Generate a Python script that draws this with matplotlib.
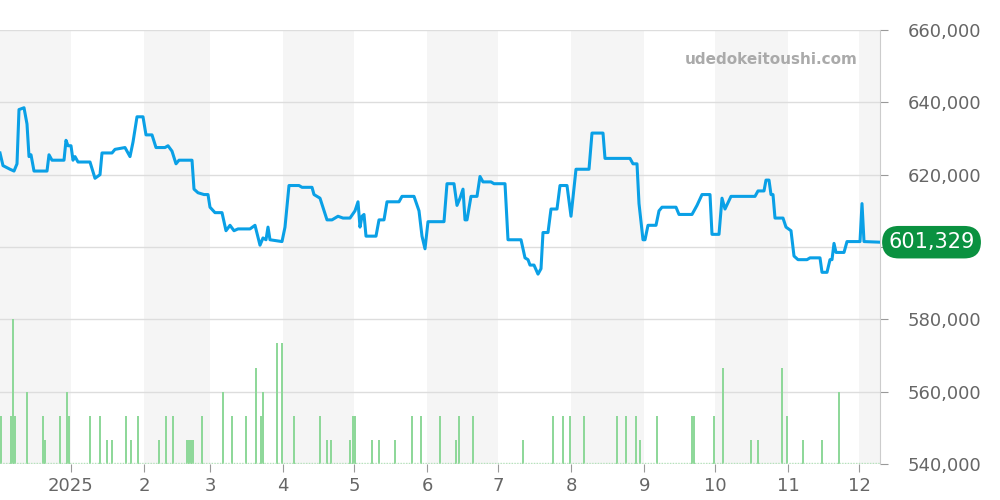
import matplotlib
matplotlib.use("Agg")
import matplotlib.pyplot as plt
import numpy as np
import pandas as pd

start = pd.Timestamp("2024-12-02")
price_pts = [(0,626),(3,622.5),(10,621.5),(14,621),(17,623),(19,638),(24,638.5),(27,634),(29,625),(31,625.5),(34,621),(47,621),(49,625.5),(52,624),(64,624),(66,629.5),(68,628),(71,628),(73,624),(75,625),(78,623.5),(90,623.5),(95,619),(100,620),(102,626),(112,626),(115,627),(125,627.5),(130,625),(133,629),(137,636),(143,636),(146,631),(152,631),(156,627.5),(165,627.5),(168,628),(172,626.5),(176,623),(179,624),(192,624),(194,616),(198,615),(204,614.5),(208,614.5),(210,611),(215,609.5),(222,609.5),(226,604.5),(230,606),(234,604.5),(238,605),(250,605),(255,606),(260,600.5),(263,602.5),(266,602),(268,605.5),(270,602),(282,601.5),(285,605.5),(289,617),(299,617),(302,616.5),(312,616.5),(314,614.5),(320,613.5),(327,607.5),(332,607.5),(338,608.5),(343,608),(350,608),(355,610),(358,612.5),(360,605.5),(362,608.5),(364,609),(366,603),(376,603),(379,607.5),(384,607.5),(387,612.5),(399,612.5),(402,614),(414,614),(419,610),(422,603),(425,599.5),(428,607),(444,607),(447,617.5),(454,617.5),(457,611.5),(460,613.5),(463,616),(465,607.5),(467,607.5),(471,614),(477,614),(480,619.5),(483,618),(491,618),(494,617.5),(505,617.5),(508,602),(521,602),(525,597),(528,596.5),(530,595),(534,595),(538,592.5),(541,594),(543,604),(548,604),(551,610.5),(557,610.5),(560,617),(567,617),(571,608.5),(576,621.5),(589,621.5),(592,631.5),(603,631.5),(605,624.5),(630,624.5),(633,623),(637,623),(639,612),(643,602),(645,602),(648,606),(656,606),(659,610),(662,611),(676,611),(679,609),(692,609),(697,611.5),(702,614.5),(710,614.5),(712,603.5),(719,603.5),(722,613.5),(725,610.5),(731,614),(755,614),(758,615.5),(764,615.5),(766,618.5),(769,618.5),(771,614.5),(773,614.5),(775,608),(783,608),(786,605.5),(791,604.5),(794,597.5),(798,596.5),(807,596.5),(810,597),(820,597),(822,593),(827,593),(830,596.5),(832,596.5),(834,601),(836,598.5),(844,598.5),(847,601.5),(860,601.5),(862,612),(864,601.5),(880,601.329)]
PX_PER_DAY = 2.36
price_days = [p[0] / PX_PER_DAY for p in price_pts]
price_vals = [p[1] * 1000 for p in price_pts]

vol_pts = [(1,2),(11,2),(13,6),(15,2),(27,3),(43,2),(45,1),(60,2),(67,3),(69,2),(90,2),(100,2),(107,1),(112,1),(126,2),(131,1),(138,2),(159,1),(166,2),(173,2),(187,1),(189,1),(191,1),(193,1),(202,2),(223,3),(232,2),(246,2),(256,4),(261,2),(263,3),(277,5),(282,5),(294,2),(320,2),(327,1),(331,1),(350,1),(353,2),(355,2),(372,1),(379,1),(395,1),(412,2),(421,2),(440,2),(456,1),(459,2),(473,2),(523,1),(553,2),(563,2),(570,2),(584,2),(617,2),(626,2),(636,2),(640,1),(657,2),(692,2),(694,2),(714,2),(723,4),(751,1),(758,1),(782,4),(787,2),(803,1),(822,1),(839,3)]
vol_days = [v[0] / PX_PER_DAY for v in vol_pts]
vol_counts = [v[1] for v in vol_pts]

month_labels = ["2025", "2", "3", "4", "5", "6", "7", "8", "9", "10", "11", "12"]
month_starts = pd.date_range("2025-01-01", periods=12, freq="MS")
last_value = 601329

def d2n(d):
    return (d - start).days

fig = plt.figure(figsize=(10, 5), dpi=100)
ax = fig.add_axes([0.0, 0.072, 0.88, 0.868])
xmax = 880 / PX_PER_DAY
ax.set_xlim(0, xmax)
ax.set_ylim(540000, 660000)

bounds = [0] + [d2n(m) for m in month_starts] + [xmax]
for i in range(len(bounds) - 1):
    if i % 2 == 0:
        ax.axvspan(bounds[i], bounds[i + 1], color="#f5f5f5", zorder=0, lw=0)

for y in range(540000, 660001, 20000):
    ax.axhline(y, color="#dddddd", lw=1, zorder=1)

unit = 6667
ax.bar(vol_days, [c * unit for c in vol_counts], bottom=540000, width=0.5,
       color="#8fd89a", zorder=2)
ax.plot([0, xmax], [540300, 540300], color="#b5e3bb", lw=1, ls=(0, (1, 1)), zorder=2)

ax.plot(price_days, price_vals, color="#0aa0e6", lw=2.2, zorder=3, solid_joinstyle="round")

yt = list(range(540000, 660001, 20000))
ax.yaxis.tick_right()
ax.set_yticks(yt)
ax.set_yticklabels(["" if v == 600000 else f"{v:,}" for v in yt])
ax.set_xticks([d2n(m) for m in month_starts])
ax.set_xticklabels(month_labels)
ax.tick_params(axis="both", colors="#999999", labelcolor="#666666", labelsize=13, length=6)
ax.tick_params(axis="y", pad=14)
for s in ["top", "left", "bottom"]:
    ax.spines[s].set_visible(False)
ax.spines["right"].set_color("#cccccc")

ax.text(0.975, 0.95, "udedokeitoushi.com", transform=ax.transAxes, ha="right", va="top",
        fontsize=11, color="#aaaaaa", fontweight="bold")

ax.annotate(f"{last_value:,}", xy=(1.0, last_value), xycoords=("axes fraction", "data"),
            xytext=(6, 0), textcoords="offset points", ha="left", va="center",
            fontsize=15, color="white",
            bbox=dict(boxstyle="round,pad=0.3,rounding_size=0.8", fc="#0a9140", ec="none"))

fig.savefig("out.png", dpi=100)
